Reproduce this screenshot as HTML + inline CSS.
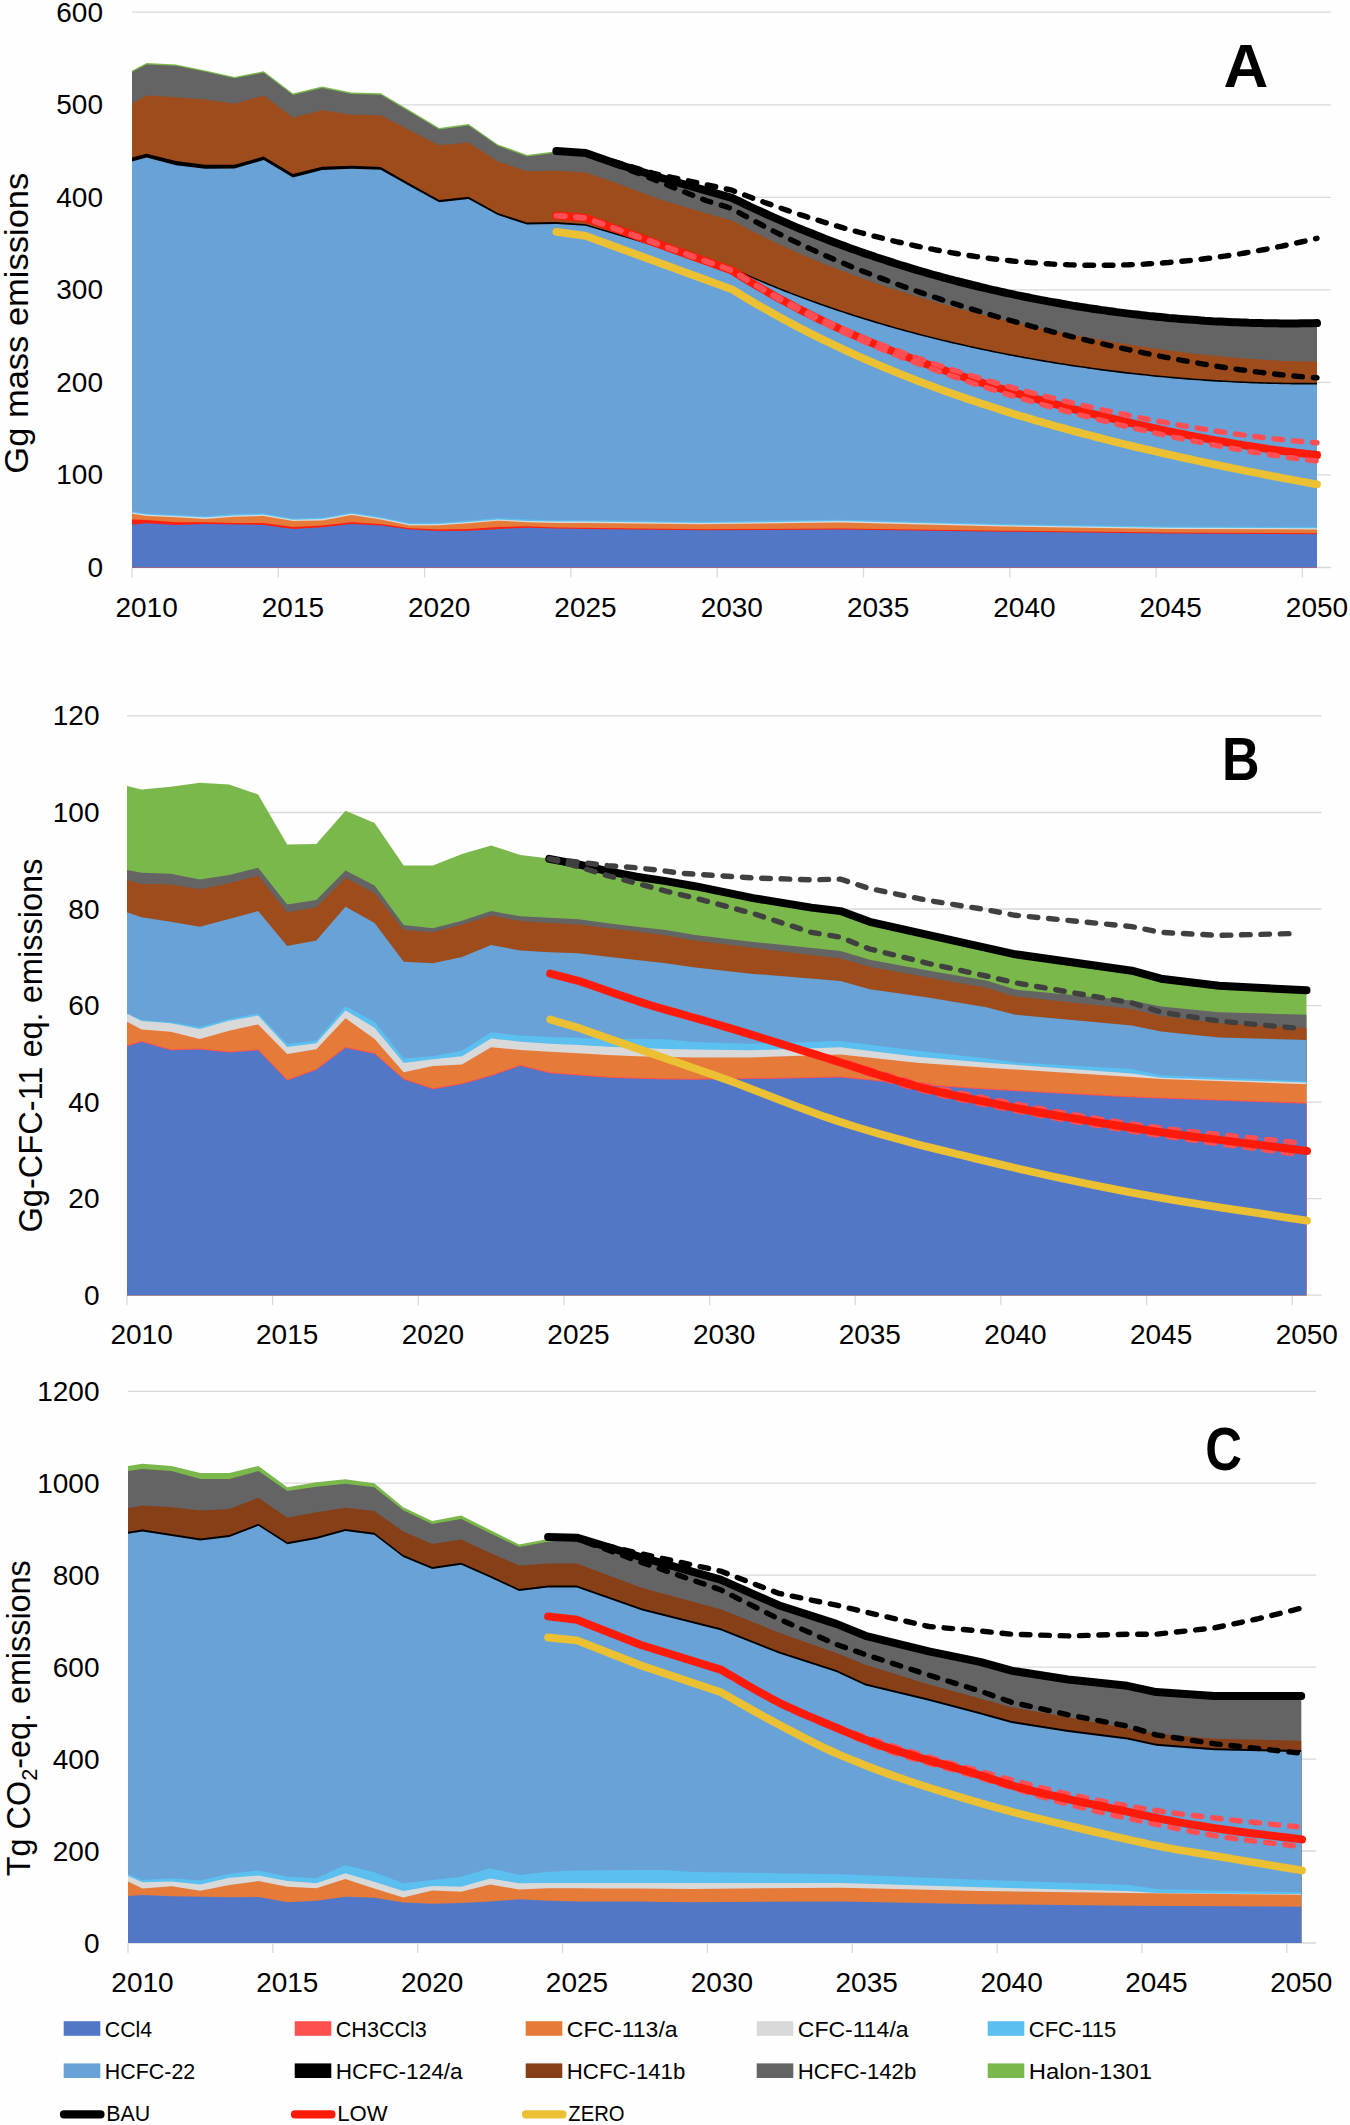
<!DOCTYPE html>
<html><head><meta charset="utf-8"><title>Emissions scenarios</title>
<style>
html,body{margin:0;padding:0;background:#FEFEFE;}
svg{display:block;}
.ax{font-family:"Liberation Sans",sans-serif;font-size:28px;fill:#000;}
.yt{font-family:"Liberation Sans",sans-serif;font-size:33px;fill:#000;}
.lt{font-family:"Liberation Sans",sans-serif;font-size:62px;font-weight:bold;fill:#000;}
.lg{font-family:"Liberation Sans",sans-serif;font-size:22px;fill:#000;}
</style></head>
<body>
<svg width="1350" height="2125" viewBox="0 0 1350 2125">
<rect width="1350" height="2125" fill="#FEFEFE"/>
<line x1="132" y1="567.5" x2="1331" y2="567.5" stroke="#D9D9D9" stroke-width="1.3"/>
<line x1="132" y1="474.9" x2="1331" y2="474.9" stroke="#D9D9D9" stroke-width="1.3"/>
<line x1="132" y1="382.4" x2="1331" y2="382.4" stroke="#D9D9D9" stroke-width="1.3"/>
<line x1="132" y1="289.9" x2="1331" y2="289.9" stroke="#D9D9D9" stroke-width="1.3"/>
<line x1="132" y1="197.3" x2="1331" y2="197.3" stroke="#D9D9D9" stroke-width="1.3"/>
<line x1="132" y1="104.8" x2="1331" y2="104.8" stroke="#D9D9D9" stroke-width="1.3"/>
<line x1="132" y1="12.2" x2="1331" y2="12.2" stroke="#D9D9D9" stroke-width="1.3"/>
<line x1="132.0" y1="567.5" x2="132.0" y2="577.5" stroke="#D9D9D9" stroke-width="1.3"/>
<line x1="278.3" y1="567.5" x2="278.3" y2="577.5" stroke="#D9D9D9" stroke-width="1.3"/>
<line x1="424.6" y1="567.5" x2="424.6" y2="577.5" stroke="#D9D9D9" stroke-width="1.3"/>
<line x1="570.9" y1="567.5" x2="570.9" y2="577.5" stroke="#D9D9D9" stroke-width="1.3"/>
<line x1="717.2" y1="567.5" x2="717.2" y2="577.5" stroke="#D9D9D9" stroke-width="1.3"/>
<line x1="863.5" y1="567.5" x2="863.5" y2="577.5" stroke="#D9D9D9" stroke-width="1.3"/>
<line x1="1009.8" y1="567.5" x2="1009.8" y2="577.5" stroke="#D9D9D9" stroke-width="1.3"/>
<line x1="1156.1" y1="567.5" x2="1156.1" y2="577.5" stroke="#D9D9D9" stroke-width="1.3"/>
<line x1="1302.4" y1="567.5" x2="1302.4" y2="577.5" stroke="#D9D9D9" stroke-width="1.3"/>
<polygon points="132.0,70.7 146.6,63.0 175.9,64.4 205.2,70.4 234.4,76.9 263.7,71.3 292.9,93.5 322.2,86.5 351.5,92.6 380.7,93.3 410.0,110.5 439.2,128.1 468.5,124.1 497.8,144.4 527.0,155.0 556.3,151.3 585.6,153.0 615.6,163.5 660.0,177.5 698.5,188.3 731.9,197.8 735.9,199.8 739.9,201.7 743.9,203.7 747.9,205.6 751.9,207.5 755.9,209.3 760.0,211.2 764.0,213.0 768.0,214.9 772.0,216.7 776.0,218.4 780.0,220.2 784.0,221.9 788.0,223.7 792.0,225.4 796.0,227.1 800.0,228.7 804.0,230.4 808.0,232.0 812.1,233.6 816.1,235.2 820.1,236.8 824.1,238.4 828.1,239.9 832.1,241.5 836.1,243.0 840.1,244.5 844.1,245.9 848.1,247.4 852.1,248.9 856.1,250.3 860.1,251.7 864.1,253.1 868.2,254.5 872.2,255.8 876.2,257.2 880.2,258.5 884.2,259.8 888.2,261.1 892.2,262.4 896.2,263.7 900.2,265.0 904.2,266.2 908.2,267.4 912.2,268.6 916.2,269.8 920.3,271.0 924.3,272.2 928.3,273.3 932.3,274.5 936.3,275.6 940.3,276.7 944.3,277.8 948.3,278.9 952.3,279.9 956.3,281.0 960.3,282.0 964.3,283.0 968.3,284.0 972.4,285.0 976.4,286.0 980.4,287.0 984.4,287.9 988.4,288.9 992.4,289.8 996.4,290.7 1000.4,291.6 1004.4,292.5 1008.4,293.4 1012.4,294.2 1016.4,295.1 1020.4,295.9 1024.5,296.7 1028.5,297.5 1032.5,298.3 1036.5,299.1 1040.5,299.9 1044.5,300.6 1048.5,301.4 1052.5,302.1 1056.5,302.8 1060.5,303.5 1064.5,304.2 1068.5,304.9 1072.5,305.6 1076.5,306.2 1080.6,306.9 1084.6,307.5 1088.6,308.1 1092.6,308.7 1096.6,309.3 1100.6,309.9 1104.6,310.4 1108.6,311.0 1112.6,311.5 1116.6,312.1 1120.6,312.6 1124.6,313.1 1128.6,313.6 1132.7,314.1 1136.7,314.5 1140.7,315.0 1144.7,315.4 1148.7,315.9 1152.7,316.3 1156.7,316.7 1160.7,317.1 1164.7,317.5 1168.7,317.9 1172.7,318.2 1176.7,318.6 1180.7,318.9 1184.8,319.2 1188.8,319.5 1192.8,319.8 1196.8,320.1 1200.8,320.4 1204.8,320.7 1208.8,320.9 1212.8,321.2 1216.8,321.4 1220.8,321.6 1224.8,321.8 1228.8,322.0 1232.8,322.2 1236.8,322.3 1240.9,322.5 1244.9,322.6 1248.9,322.8 1252.9,322.9 1256.9,323.0 1260.9,323.1 1264.9,323.2 1268.9,323.2 1272.9,323.3 1276.9,323.3 1280.9,323.4 1284.9,323.4 1288.9,323.4 1293.0,323.4 1297.0,323.4 1301.0,323.3 1305.0,323.3 1309.0,323.3 1313.0,323.2 1317.0,323.1 1317.0,567.5 132.0,567.5" fill="#7BB84C"/>
<polygon points="132.0,72.1 146.6,64.4 175.9,65.8 205.2,71.8 234.4,78.3 263.7,72.7 292.9,94.9 322.2,87.9 351.5,94.0 380.7,94.7 410.0,111.9 439.2,129.5 468.5,125.5 497.8,145.8 527.0,156.4 556.3,152.7 585.6,154.5 615.6,165.0 660.0,179.0 698.5,189.8 731.9,199.3 735.9,201.3 739.9,203.2 743.9,205.2 747.9,207.1 751.9,209.0 755.9,210.8 760.0,212.7 764.0,214.5 768.0,216.4 772.0,218.2 776.0,219.9 780.0,221.7 784.0,223.4 788.0,225.2 792.0,226.9 796.0,228.6 800.0,230.2 804.0,231.9 808.0,233.5 812.1,235.1 816.1,236.7 820.1,238.3 824.1,239.9 828.1,241.4 832.1,243.0 836.1,244.5 840.1,246.0 844.1,247.4 848.1,248.9 852.1,250.4 856.1,251.8 860.1,253.2 864.1,254.6 868.2,256.0 872.2,257.3 876.2,258.7 880.2,260.0 884.2,261.3 888.2,262.6 892.2,263.9 896.2,265.2 900.2,266.5 904.2,267.7 908.2,268.9 912.2,270.1 916.2,271.3 920.3,272.5 924.3,273.7 928.3,274.8 932.3,276.0 936.3,277.1 940.3,278.2 944.3,279.3 948.3,280.4 952.3,281.4 956.3,282.5 960.3,283.5 964.3,284.5 968.3,285.5 972.4,286.5 976.4,287.5 980.4,288.5 984.4,289.4 988.4,290.4 992.4,291.3 996.4,292.2 1000.4,293.1 1004.4,294.0 1008.4,294.9 1012.4,295.7 1016.4,296.6 1020.4,297.4 1024.5,298.2 1028.5,299.0 1032.5,299.8 1036.5,300.6 1040.5,301.4 1044.5,302.1 1048.5,302.9 1052.5,303.6 1056.5,304.3 1060.5,305.0 1064.5,305.7 1068.5,306.4 1072.5,307.1 1076.5,307.7 1080.6,308.4 1084.6,309.0 1088.6,309.6 1092.6,310.2 1096.6,310.8 1100.6,311.4 1104.6,311.9 1108.6,312.5 1112.6,313.0 1116.6,313.6 1120.6,314.1 1124.6,314.6 1128.6,315.1 1132.7,315.6 1136.7,316.0 1140.7,316.5 1144.7,316.9 1148.7,317.4 1152.7,317.8 1156.7,318.2 1160.7,318.6 1164.7,319.0 1168.7,319.4 1172.7,319.7 1176.7,320.1 1180.7,320.4 1184.8,320.7 1188.8,321.0 1192.8,321.3 1196.8,321.6 1200.8,321.9 1204.8,322.2 1208.8,322.4 1212.8,322.7 1216.8,322.9 1220.8,323.1 1224.8,323.3 1228.8,323.5 1232.8,323.7 1236.8,323.8 1240.9,324.0 1244.9,324.1 1248.9,324.3 1252.9,324.4 1256.9,324.5 1260.9,324.6 1264.9,324.7 1268.9,324.7 1272.9,324.8 1276.9,324.8 1280.9,324.9 1284.9,324.9 1288.9,324.9 1293.0,324.9 1297.0,324.9 1301.0,324.8 1305.0,324.8 1309.0,324.8 1313.0,324.7 1317.0,324.6 1317.0,567.5 132.0,567.5" fill="#636463"/>
<polygon points="132.0,103.3 146.6,95.4 175.9,97.2 205.2,99.6 234.4,103.7 263.7,95.4 292.9,117.6 322.2,110.2 351.5,114.8 380.7,115.2 410.0,130.4 439.2,145.2 468.5,142.6 497.8,161.5 527.0,171.3 556.3,170.7 585.6,172.4 615.6,182.7 660.0,199.5 700.0,211.5 731.9,220.4 735.9,222.6 739.9,224.7 743.9,226.8 747.9,228.9 751.9,231.0 755.9,233.0 760.0,235.1 764.0,237.0 768.0,239.0 772.0,240.9 776.0,242.8 780.0,244.7 784.0,246.6 788.0,248.4 792.0,250.2 796.0,252.0 800.0,253.8 804.0,255.5 808.0,257.2 812.1,258.9 816.1,260.6 820.1,262.3 824.1,263.9 828.1,265.5 832.1,267.1 836.1,268.7 840.1,270.2 844.1,271.8 848.1,273.3 852.1,274.8 856.1,276.2 860.1,277.7 864.1,279.1 868.2,280.6 872.2,282.0 876.2,283.4 880.2,284.7 884.2,286.1 888.2,287.4 892.2,288.7 896.2,290.0 900.2,291.3 904.2,292.6 908.2,293.9 912.2,295.1 916.2,296.3 920.3,297.6 924.3,298.8 928.3,300.0 932.3,301.1 936.3,302.3 940.3,303.4 944.3,304.6 948.3,305.7 952.3,306.8 956.3,307.9 960.3,309.0 964.3,310.0 968.3,311.1 972.4,312.1 976.4,313.2 980.4,314.2 984.4,315.2 988.4,316.2 992.4,317.2 996.4,318.2 1000.4,319.1 1004.4,320.1 1008.4,321.0 1012.4,322.0 1016.4,322.9 1020.4,323.8 1024.5,324.7 1028.5,325.6 1032.5,326.5 1036.5,327.3 1040.5,328.2 1044.5,329.0 1048.5,329.9 1052.5,330.7 1056.5,331.5 1060.5,332.3 1064.5,333.1 1068.5,333.9 1072.5,334.7 1076.5,335.4 1080.6,336.2 1084.6,337.0 1088.6,337.7 1092.6,338.4 1096.6,339.1 1100.6,339.8 1104.6,340.5 1108.6,341.2 1112.6,341.9 1116.6,342.6 1120.6,343.2 1124.6,343.9 1128.6,344.5 1132.7,345.2 1136.7,345.8 1140.7,346.4 1144.7,347.0 1148.7,347.6 1152.7,348.2 1156.7,348.7 1160.7,349.3 1164.7,349.9 1168.7,350.4 1172.7,350.9 1176.7,351.4 1180.7,351.9 1184.8,352.4 1188.8,352.9 1192.8,353.4 1196.8,353.9 1200.8,354.3 1204.8,354.7 1208.8,355.2 1212.8,355.6 1216.8,356.0 1220.8,356.4 1224.8,356.8 1228.8,357.1 1232.8,357.5 1236.8,357.8 1240.9,358.2 1244.9,358.5 1248.9,358.8 1252.9,359.1 1256.9,359.3 1260.9,359.6 1264.9,359.8 1268.9,360.1 1272.9,360.3 1276.9,360.5 1280.9,360.7 1284.9,360.9 1288.9,361.0 1293.0,361.2 1297.0,361.3 1301.0,361.4 1305.0,361.5 1309.0,361.6 1313.0,361.6 1317.0,361.7 1317.0,567.5 132.0,567.5" fill="#9E4C1C"/>
<polygon points="132.0,157.4 146.6,153.7 175.9,161.1 205.2,164.8 234.4,164.8 263.7,156.5 292.9,174.0 322.2,166.7 351.5,165.7 380.7,167.0 410.0,183.7 439.2,200.0 468.5,196.7 497.8,213.0 527.0,222.6 556.3,222.1 585.6,224.2 731.9,267.5 735.9,269.3 739.9,271.2 743.9,272.9 747.9,274.7 751.9,276.5 755.9,278.2 760.0,279.9 764.0,281.6 768.0,283.3 772.0,284.9 776.0,286.6 780.0,288.2 784.0,289.8 788.0,291.3 792.0,292.9 796.0,294.4 800.0,295.9 804.0,297.4 808.0,298.9 812.1,300.4 816.1,301.8 820.1,303.3 824.1,304.7 828.1,306.1 832.1,307.5 836.1,308.8 840.1,310.2 844.1,311.5 848.1,312.8 852.1,314.1 856.1,315.4 860.1,316.6 864.1,317.9 868.2,319.1 872.2,320.3 876.2,321.6 880.2,322.7 884.2,323.9 888.2,325.1 892.2,326.2 896.2,327.4 900.2,328.5 904.2,329.6 908.2,330.7 912.2,331.7 916.2,332.8 920.3,333.9 924.3,334.9 928.3,335.9 932.3,336.9 936.3,337.9 940.3,338.9 944.3,339.9 948.3,340.8 952.3,341.8 956.3,342.7 960.3,343.6 964.3,344.5 968.3,345.4 972.4,346.3 976.4,347.2 980.4,348.1 984.4,348.9 988.4,349.7 992.4,350.6 996.4,351.4 1000.4,352.2 1004.4,353.0 1008.4,353.8 1012.4,354.5 1016.4,355.3 1020.4,356.0 1024.5,356.8 1028.5,357.5 1032.5,358.2 1036.5,358.9 1040.5,359.6 1044.5,360.3 1048.5,361.0 1052.5,361.6 1056.5,362.3 1060.5,362.9 1064.5,363.5 1068.5,364.2 1072.5,364.8 1076.5,365.4 1080.6,366.0 1084.6,366.5 1088.6,367.1 1092.6,367.7 1096.6,368.2 1100.6,368.8 1104.6,369.3 1108.6,369.8 1112.6,370.3 1116.6,370.8 1120.6,371.3 1124.6,371.8 1128.6,372.3 1132.7,372.7 1136.7,373.2 1140.7,373.6 1144.7,374.0 1148.7,374.5 1152.7,374.9 1156.7,375.3 1160.7,375.7 1164.7,376.0 1168.7,376.4 1172.7,376.8 1176.7,377.1 1180.7,377.5 1184.8,377.8 1188.8,378.1 1192.8,378.4 1196.8,378.7 1200.8,379.0 1204.8,379.3 1208.8,379.6 1212.8,379.8 1216.8,380.1 1220.8,380.3 1224.8,380.5 1228.8,380.7 1232.8,381.0 1236.8,381.2 1240.9,381.3 1244.9,381.5 1248.9,381.7 1252.9,381.8 1256.9,382.0 1260.9,382.1 1264.9,382.2 1268.9,382.3 1272.9,382.4 1276.9,382.5 1280.9,382.6 1284.9,382.7 1288.9,382.7 1293.0,382.8 1297.0,382.8 1301.0,382.8 1305.0,382.8 1309.0,382.8 1313.0,382.8 1317.0,382.8 1317.0,567.5 132.0,567.5" fill="#000000"/>
<polygon points="132.0,161.6 146.6,157.6 175.9,165.3 205.2,168.8 234.4,168.6 263.7,160.1 292.9,177.4 322.2,169.9 351.5,168.7 380.7,169.8 410.0,186.2 439.2,202.3 468.5,198.9 497.8,215.1 527.0,224.6 556.3,224.0 585.6,225.8 731.9,269.1 735.9,270.9 739.9,272.8 743.9,274.5 747.9,276.3 751.9,278.1 755.9,279.8 760.0,281.5 764.0,283.2 768.0,284.9 772.0,286.5 776.0,288.2 780.0,289.8 784.0,291.4 788.0,292.9 792.0,294.5 796.0,296.0 800.0,297.5 804.0,299.0 808.0,300.5 812.1,302.0 816.1,303.4 820.1,304.9 824.1,306.3 828.1,307.7 832.1,309.1 836.1,310.4 840.1,311.8 844.1,313.1 848.1,314.4 852.1,315.7 856.1,317.0 860.1,318.2 864.1,319.5 868.2,320.7 872.2,321.9 876.2,323.2 880.2,324.3 884.2,325.5 888.2,326.7 892.2,327.8 896.2,329.0 900.2,330.1 904.2,331.2 908.2,332.3 912.2,333.3 916.2,334.4 920.3,335.5 924.3,336.5 928.3,337.5 932.3,338.5 936.3,339.5 940.3,340.5 944.3,341.5 948.3,342.4 952.3,343.4 956.3,344.3 960.3,345.2 964.3,346.1 968.3,347.0 972.4,347.9 976.4,348.8 980.4,349.7 984.4,350.5 988.4,351.3 992.4,352.2 996.4,353.0 1000.4,353.8 1004.4,354.6 1008.4,355.4 1012.4,356.1 1016.4,356.9 1020.4,357.6 1024.5,358.4 1028.5,359.1 1032.5,359.8 1036.5,360.5 1040.5,361.2 1044.5,361.9 1048.5,362.6 1052.5,363.2 1056.5,363.9 1060.5,364.5 1064.5,365.1 1068.5,365.8 1072.5,366.4 1076.5,367.0 1080.6,367.6 1084.6,368.1 1088.6,368.7 1092.6,369.3 1096.6,369.8 1100.6,370.4 1104.6,370.9 1108.6,371.4 1112.6,371.9 1116.6,372.4 1120.6,372.9 1124.6,373.4 1128.6,373.9 1132.7,374.3 1136.7,374.8 1140.7,375.2 1144.7,375.6 1148.7,376.1 1152.7,376.5 1156.7,376.9 1160.7,377.3 1164.7,377.6 1168.7,378.0 1172.7,378.4 1176.7,378.7 1180.7,379.1 1184.8,379.4 1188.8,379.7 1192.8,380.0 1196.8,380.3 1200.8,380.6 1204.8,380.9 1208.8,381.2 1212.8,381.4 1216.8,381.7 1220.8,381.9 1224.8,382.1 1228.8,382.3 1232.8,382.6 1236.8,382.8 1240.9,382.9 1244.9,383.1 1248.9,383.3 1252.9,383.4 1256.9,383.6 1260.9,383.7 1264.9,383.8 1268.9,383.9 1272.9,384.0 1276.9,384.1 1280.9,384.2 1284.9,384.3 1288.9,384.3 1293.0,384.4 1297.0,384.4 1301.0,384.4 1305.0,384.4 1309.0,384.4 1313.0,384.4 1317.0,384.4 1317.0,567.5 132.0,567.5" fill="#69A2D7"/>
<polygon points="132.0,511.2 146.7,513.4 175.9,514.7 205.2,516.3 234.5,514.1 263.7,513.4 293.0,518.5 322.3,517.8 351.5,512.5 380.8,517.0 410.0,523.0 439.3,522.6 468.6,520.7 497.9,518.1 527.1,519.6 556.4,520.3 585.6,520.3 700.0,521.7 840.0,519.8 1003.0,524.0 1167.0,526.4 1317.0,526.9 1317.0,567.5 132.0,567.5" fill="#5BBFF0"/>
<polygon points="132.0,512.5 146.7,514.7 175.9,516.0 205.2,517.6 234.5,515.4 263.7,514.7 293.0,519.8 322.3,519.1 351.5,513.8 380.8,518.3 410.0,524.3 439.3,523.9 468.6,522.0 497.9,519.4 527.1,520.9 556.4,521.6 585.6,521.6 700.0,523.0 840.0,521.1 1003.0,525.3 1167.0,527.7 1317.0,528.2 1317.0,567.5 132.0,567.5" fill="#D9D9D9"/>
<polygon points="132.0,513.8 146.7,516.0 175.9,517.3 205.2,518.9 234.5,516.7 263.7,516.0 293.0,521.1 322.3,520.4 351.5,515.1 380.8,519.6 410.0,525.6 439.3,525.2 468.6,523.3 497.9,520.7 527.1,522.2 556.4,522.9 585.6,522.9 700.0,524.3 840.0,522.4 1003.0,526.6 1167.0,529.0 1317.0,529.5 1317.0,567.5 132.0,567.5" fill="#E57A39"/>
<polygon points="132.0,519.6 146.7,520.0 175.9,522.2 205.2,522.2 234.5,522.9 263.7,522.9 293.0,527.0 322.3,525.6 351.5,522.2 380.8,524.0 410.0,528.2 439.3,529.6 468.6,528.9 497.9,527.1 527.1,526.2 556.4,527.5 700.0,529.3 840.0,528.4 1003.0,530.7 1167.0,532.6 1317.0,533.2 1317.0,567.5 132.0,567.5" fill="#FF1E0F"/>
<polygon points="132.0,524.4 146.7,523.3 175.9,524.9 205.2,524.0 234.5,524.4 263.7,524.9 293.0,528.9 322.3,527.3 351.5,524.0 380.8,525.6 410.0,529.6 439.3,531.1 468.6,530.7 497.9,528.9 527.1,527.8 556.4,528.4 585.6,528.9 700.0,530.3 840.0,529.4 1003.0,531.7 1167.0,533.6 1317.0,534.2 1317.0,567.5 132.0,567.5" fill="#5277C7"/>
<polyline points="556.4,231.9 585.6,235.9 731.9,289.3 735.9,291.8 739.9,294.2 743.9,296.7 747.9,299.0 751.9,301.4 755.9,303.8 760.0,306.1 764.0,308.4 768.0,310.7 772.0,312.9 776.0,315.2 780.0,317.4 784.0,319.5 788.0,321.7 792.0,323.8 796.0,326.0 800.0,328.1 804.0,330.1 808.0,332.2 812.1,334.2 816.1,336.2 820.1,338.2 824.1,340.2 828.1,342.1 832.1,344.0 836.1,346.0 840.1,347.8 844.1,349.7 848.1,351.6 852.1,353.4 856.1,355.2 860.1,357.0 864.1,358.8 868.2,360.5 872.2,362.3 876.2,364.0 880.2,365.7 884.2,367.4 888.2,369.0 892.2,370.7 896.2,372.3 900.2,374.0 904.2,375.6 908.2,377.1 912.2,378.7 916.2,380.3 920.3,381.8 924.3,383.3 928.3,384.9 932.3,386.3 936.3,387.8 940.3,389.3 944.3,390.8 948.3,392.2 952.3,393.6 956.3,395.0 960.3,396.4 964.3,397.8 968.3,399.2 972.4,400.5 976.4,401.9 980.4,403.2 984.4,404.5 988.4,405.8 992.4,407.1 996.4,408.4 1000.4,409.7 1004.4,411.0 1008.4,412.2 1012.4,413.5 1016.4,414.7 1020.4,415.9 1024.5,417.1 1028.5,418.3 1032.5,419.5 1036.5,420.7 1040.5,421.8 1044.5,423.0 1048.5,424.1 1052.5,425.2 1056.5,426.4 1060.5,427.5 1064.5,428.6 1068.5,429.7 1072.5,430.8 1076.5,431.9 1080.6,432.9 1084.6,434.0 1088.6,435.0 1092.6,436.1 1096.6,437.1 1100.6,438.1 1104.6,439.2 1108.6,440.2 1112.6,441.2 1116.6,442.2 1120.6,443.2 1124.6,444.2 1128.6,445.1 1132.7,446.1 1136.7,447.1 1140.7,448.0 1144.7,449.0 1148.7,449.9 1152.7,450.8 1156.7,451.8 1160.7,452.7 1164.7,453.6 1168.7,454.5 1172.7,455.4 1176.7,456.3 1180.7,457.2 1184.8,458.1 1188.8,458.9 1192.8,459.8 1196.8,460.7 1200.8,461.5 1204.8,462.4 1208.8,463.2 1212.8,464.1 1216.8,464.9 1220.8,465.8 1224.8,466.6 1228.8,467.4 1232.8,468.2 1236.8,469.0 1240.9,469.8 1244.9,470.7 1248.9,471.5 1252.9,472.2 1256.9,473.0 1260.9,473.8 1264.9,474.6 1268.9,475.4 1272.9,476.2 1276.9,476.9 1280.9,477.7 1284.9,478.5 1288.9,479.2 1293.0,480.0 1297.0,480.7 1301.0,481.5 1305.0,482.2 1309.0,482.9 1313.0,483.7 1317.0,484.4" fill="none" stroke="#EBC032" stroke-width="7.8" stroke-linecap="round" stroke-linejoin="round"/>
<polyline points="556.4,215.6 585.6,218.0 731.9,270.5 735.9,273.0 739.9,275.5 743.9,278.0 747.9,280.5 751.9,282.9 755.9,285.3 760.0,287.6 764.0,289.9 768.0,292.2 772.0,294.5 776.0,296.7 780.0,298.9 784.0,301.1 788.0,303.3 792.0,305.4 796.0,307.5 800.0,309.6 804.0,311.6 808.0,313.6 812.1,315.6 816.1,317.6 820.1,319.6 824.1,321.5 828.1,323.4 832.1,325.3 836.1,327.1 840.1,329.0 844.1,330.8 848.1,332.6 852.1,334.4 856.1,336.1 860.1,337.9 864.1,339.6 868.2,341.3 872.2,343.0 876.2,344.6 880.2,346.3 884.2,347.9 888.2,349.5 892.2,351.1 896.2,352.7 900.2,354.2 904.2,355.8 908.2,357.3 912.2,358.8 916.2,360.3 920.3,361.8 924.3,363.2 928.3,364.7 932.3,366.1 936.3,367.5 940.3,368.9 944.3,370.3 948.3,371.7 952.3,373.1 956.3,374.4 960.3,375.8 964.3,377.1 968.3,378.4 972.4,379.7 976.4,381.0 980.4,382.3 984.4,383.5 988.4,384.8 992.4,386.0 996.4,387.3 1000.4,388.5 1004.4,389.7 1008.4,390.9 1012.4,392.1 1016.4,393.3 1020.4,394.4 1024.5,395.6 1028.5,396.7 1032.5,397.9 1036.5,399.0 1040.5,400.1 1044.5,401.2 1048.5,402.3 1052.5,403.4 1056.5,404.5 1060.5,405.6 1064.5,406.7 1068.5,407.7 1072.5,408.8 1076.5,409.8 1080.6,410.8 1084.6,411.8 1088.6,412.9 1092.6,413.9 1096.6,414.8 1100.6,415.8 1104.6,416.8 1108.6,417.8 1112.6,418.7 1116.6,419.7 1120.6,420.6 1124.6,421.6 1128.6,422.5 1132.7,423.4 1136.7,424.3 1140.7,425.2 1144.7,426.1 1148.7,427.0 1152.7,427.9 1156.7,428.7 1160.7,429.6 1164.7,430.4 1168.7,431.3 1172.7,432.1 1176.7,432.9 1180.7,433.7 1184.8,434.5 1188.8,435.3 1192.8,436.1 1196.8,436.9 1200.8,437.7 1204.8,438.4 1208.8,439.2 1212.8,439.9 1216.8,440.6 1220.8,441.3 1224.8,442.0 1228.8,442.7 1232.8,443.4 1236.8,444.1 1240.9,444.7 1244.9,445.4 1248.9,446.0 1252.9,446.7 1256.9,447.3 1260.9,447.9 1264.9,448.5 1268.9,449.1 1272.9,449.6 1276.9,450.2 1280.9,450.7 1284.9,451.3 1288.9,451.8 1293.0,452.3 1297.0,452.8 1301.0,453.2 1305.0,453.7 1309.0,454.1 1313.0,454.6 1317.0,455.0" fill="none" stroke="#FF1A0A" stroke-width="8" stroke-linecap="round" stroke-linejoin="round"/>
<polyline points="556.4,215.6 585.6,218.0 731.9,270.5 735.9,273.0 739.9,275.4 743.9,277.9 747.9,280.3 751.9,282.6 755.9,285.0 760.0,287.2 764.0,289.5 768.0,291.8 772.0,294.0 776.0,296.1 780.0,298.3 784.0,300.4 788.0,302.5 792.0,304.6 796.0,306.6 800.0,308.7 804.0,310.7 808.0,312.6 812.1,314.6 816.1,316.5 820.1,318.4 824.1,320.3 828.1,322.1 832.1,323.9 836.1,325.7 840.1,327.5 844.1,329.3 848.1,331.0 852.1,332.7 856.1,334.4 860.1,336.1 864.1,337.7 868.2,339.4 872.2,341.0 876.2,342.6 880.2,344.2 884.2,345.7 888.2,347.3 892.2,348.8 896.2,350.3 900.2,351.8 904.2,353.3 908.2,354.7 912.2,356.2 916.2,357.6 920.3,359.0 924.3,360.4 928.3,361.8 932.3,363.1 936.3,364.5 940.3,365.8 944.3,367.1 948.3,368.4 952.3,369.7 956.3,371.0 960.3,372.3 964.3,373.5 968.3,374.8 972.4,376.0 976.4,377.2 980.4,378.4 984.4,379.6 988.4,380.8 992.4,381.9 996.4,383.1 1000.4,384.2 1004.4,385.4 1008.4,386.5 1012.4,387.6 1016.4,388.7 1020.4,389.8 1024.5,390.8 1028.5,391.9 1032.5,393.0 1036.5,394.0 1040.5,395.0 1044.5,396.1 1048.5,397.1 1052.5,398.1 1056.5,399.1 1060.5,400.1 1064.5,401.0 1068.5,402.0 1072.5,402.9 1076.5,403.9 1080.6,404.8 1084.6,405.8 1088.6,406.7 1092.6,407.6 1096.6,408.5 1100.6,409.4 1104.6,410.3 1108.6,411.1 1112.6,412.0 1116.6,412.8 1120.6,413.7 1124.6,414.5 1128.6,415.4 1132.7,416.2 1136.7,417.0 1140.7,417.8 1144.7,418.6 1148.7,419.4 1152.7,420.1 1156.7,420.9 1160.7,421.7 1164.7,422.4 1168.7,423.1 1172.7,423.9 1176.7,424.6 1180.7,425.3 1184.8,426.0 1188.8,426.7 1192.8,427.3 1196.8,428.0 1200.8,428.7 1204.8,429.3 1208.8,430.0 1212.8,430.6 1216.8,431.2 1220.8,431.8 1224.8,432.4 1228.8,433.0 1232.8,433.6 1236.8,434.1 1240.9,434.7 1244.9,435.2 1248.9,435.7 1252.9,436.3 1256.9,436.8 1260.9,437.3 1264.9,437.7 1268.9,438.2 1272.9,438.7 1276.9,439.1 1280.9,439.5 1284.9,440.0 1288.9,440.4 1293.0,440.8 1297.0,441.1 1301.0,441.5 1305.0,441.8 1309.0,442.2 1313.0,442.5 1317.0,442.8" fill="none" stroke="#FF4F55" stroke-width="5.4" stroke-linecap="round" stroke-linejoin="round" stroke-dasharray="8.6 10.8"/>
<polyline points="556.4,215.6 585.6,218.0 731.9,270.5 735.9,273.1 739.9,275.7 743.9,278.2 747.9,280.7 751.9,283.2 755.9,285.6 760.0,288.0 764.0,290.4 768.0,292.8 772.0,295.1 776.0,297.4 780.0,299.7 784.0,301.9 788.0,304.1 792.0,306.3 796.0,308.5 800.0,310.6 804.0,312.7 808.0,314.8 812.1,316.9 816.1,318.9 820.1,320.9 824.1,322.9 828.1,324.9 832.1,326.8 836.1,328.8 840.1,330.7 844.1,332.5 848.1,334.4 852.1,336.2 856.1,338.1 860.1,339.8 864.1,341.6 868.2,343.4 872.2,345.1 876.2,346.8 880.2,348.5 884.2,350.2 888.2,351.9 892.2,353.5 896.2,355.1 900.2,356.8 904.2,358.3 908.2,359.9 912.2,361.5 916.2,363.0 920.3,364.5 924.3,366.1 928.3,367.6 932.3,369.0 936.3,370.5 940.3,372.0 944.3,373.4 948.3,374.8 952.3,376.2 956.3,377.6 960.3,379.0 964.3,380.4 968.3,381.7 972.4,383.1 976.4,384.4 980.4,385.7 984.4,387.0 988.4,388.3 992.4,389.6 996.4,390.8 1000.4,392.1 1004.4,393.4 1008.4,394.6 1012.4,395.8 1016.4,397.0 1020.4,398.2 1024.5,399.4 1028.5,400.6 1032.5,401.8 1036.5,402.9 1040.5,404.1 1044.5,405.2 1048.5,406.3 1052.5,407.5 1056.5,408.6 1060.5,409.7 1064.5,410.8 1068.5,411.8 1072.5,412.9 1076.5,414.0 1080.6,415.0 1084.6,416.1 1088.6,417.1 1092.6,418.1 1096.6,419.1 1100.6,420.1 1104.6,421.1 1108.6,422.1 1112.6,423.1 1116.6,424.1 1120.6,425.1 1124.6,426.0 1128.6,427.0 1132.7,427.9 1136.7,428.8 1140.7,429.7 1144.7,430.7 1148.7,431.6 1152.7,432.5 1156.7,433.3 1160.7,434.2 1164.7,435.1 1168.7,436.0 1172.7,436.8 1176.7,437.7 1180.7,438.5 1184.8,439.3 1188.8,440.1 1192.8,440.9 1196.8,441.7 1200.8,442.5 1204.8,443.3 1208.8,444.1 1212.8,444.8 1216.8,445.6 1220.8,446.3 1224.8,447.1 1228.8,447.8 1232.8,448.5 1236.8,449.2 1240.9,449.9 1244.9,450.6 1248.9,451.3 1252.9,452.0 1256.9,452.6 1260.9,453.3 1264.9,453.9 1268.9,454.5 1272.9,455.1 1276.9,455.7 1280.9,456.3 1284.9,456.9 1288.9,457.5 1293.0,458.0 1297.0,458.6 1301.0,459.1 1305.0,459.6 1309.0,460.1 1313.0,460.6 1317.0,461.1" fill="none" stroke="#FF4F55" stroke-width="5.4" stroke-linecap="round" stroke-linejoin="round" stroke-dasharray="8.6 10.8"/>
<polyline points="556.4,150.9 585.6,153.0 615.6,163.5 660.0,177.5 698.5,188.3 731.9,197.8 735.9,199.8 739.9,201.7 743.9,203.7 747.9,205.6 751.9,207.5 755.9,209.3 760.0,211.2 764.0,213.0 768.0,214.9 772.0,216.7 776.0,218.4 780.0,220.2 784.0,221.9 788.0,223.7 792.0,225.4 796.0,227.1 800.0,228.7 804.0,230.4 808.0,232.0 812.1,233.6 816.1,235.2 820.1,236.8 824.1,238.4 828.1,239.9 832.1,241.5 836.1,243.0 840.1,244.5 844.1,245.9 848.1,247.4 852.1,248.9 856.1,250.3 860.1,251.7 864.1,253.1 868.2,254.5 872.2,255.8 876.2,257.2 880.2,258.5 884.2,259.8 888.2,261.1 892.2,262.4 896.2,263.7 900.2,265.0 904.2,266.2 908.2,267.4 912.2,268.6 916.2,269.8 920.3,271.0 924.3,272.2 928.3,273.3 932.3,274.5 936.3,275.6 940.3,276.7 944.3,277.8 948.3,278.9 952.3,279.9 956.3,281.0 960.3,282.0 964.3,283.0 968.3,284.0 972.4,285.0 976.4,286.0 980.4,287.0 984.4,287.9 988.4,288.9 992.4,289.8 996.4,290.7 1000.4,291.6 1004.4,292.5 1008.4,293.4 1012.4,294.2 1016.4,295.1 1020.4,295.9 1024.5,296.7 1028.5,297.5 1032.5,298.3 1036.5,299.1 1040.5,299.9 1044.5,300.6 1048.5,301.4 1052.5,302.1 1056.5,302.8 1060.5,303.5 1064.5,304.2 1068.5,304.9 1072.5,305.6 1076.5,306.2 1080.6,306.9 1084.6,307.5 1088.6,308.1 1092.6,308.7 1096.6,309.3 1100.6,309.9 1104.6,310.4 1108.6,311.0 1112.6,311.5 1116.6,312.1 1120.6,312.6 1124.6,313.1 1128.6,313.6 1132.7,314.1 1136.7,314.5 1140.7,315.0 1144.7,315.4 1148.7,315.9 1152.7,316.3 1156.7,316.7 1160.7,317.1 1164.7,317.5 1168.7,317.9 1172.7,318.2 1176.7,318.6 1180.7,318.9 1184.8,319.2 1188.8,319.5 1192.8,319.8 1196.8,320.1 1200.8,320.4 1204.8,320.7 1208.8,320.9 1212.8,321.2 1216.8,321.4 1220.8,321.6 1224.8,321.8 1228.8,322.0 1232.8,322.2 1236.8,322.3 1240.9,322.5 1244.9,322.6 1248.9,322.8 1252.9,322.9 1256.9,323.0 1260.9,323.1 1264.9,323.2 1268.9,323.2 1272.9,323.3 1276.9,323.3 1280.9,323.4 1284.9,323.4 1288.9,323.4 1293.0,323.4 1297.0,323.4 1301.0,323.3 1305.0,323.3 1309.0,323.3 1313.0,323.2 1317.0,323.1" fill="none" stroke="#000000" stroke-width="8" stroke-linecap="round" stroke-linejoin="round"/>
<polyline points="556.4,150.9 585.6,153.0 654.0,173.5 731.9,190.2 735.9,191.7 739.9,193.3 743.9,194.8 747.9,196.3 751.9,197.8 755.9,199.3 760.0,200.7 764.0,202.2 768.0,203.6 772.0,205.0 776.0,206.4 780.0,207.8 784.0,209.2 788.0,210.6 792.0,211.9 796.0,213.2 800.0,214.6 804.0,215.9 808.0,217.2 812.1,218.4 816.1,219.7 820.1,220.9 824.1,222.2 828.1,223.4 832.1,224.6 836.1,225.8 840.1,226.9 844.1,228.1 848.1,229.2 852.1,230.3 856.1,231.4 860.1,232.5 864.1,233.6 868.2,234.7 872.2,235.7 876.2,236.7 880.2,237.7 884.2,238.7 888.2,239.7 892.2,240.6 896.2,241.6 900.2,242.5 904.2,243.4 908.2,244.3 912.2,245.1 916.2,246.0 920.3,246.8 924.3,247.6 928.3,248.4 932.3,249.2 936.3,250.0 940.3,250.7 944.3,251.4 948.3,252.1 952.3,252.8 956.3,253.5 960.3,254.1 964.3,254.8 968.3,255.4 972.4,256.0 976.4,256.6 980.4,257.1 984.4,257.7 988.4,258.2 992.4,258.7 996.4,259.2 1000.4,259.7 1004.4,260.1 1008.4,260.5 1012.4,261.0 1016.4,261.4 1020.4,261.7 1024.5,262.1 1028.5,262.4 1032.5,262.7 1036.5,263.0 1040.5,263.3 1044.5,263.6 1048.5,263.8 1052.5,264.1 1056.5,264.3 1060.5,264.5 1064.5,264.6 1068.5,264.8 1072.5,264.9 1076.5,265.0 1080.6,265.1 1084.6,265.2 1088.6,265.3 1092.6,265.3 1096.6,265.3 1100.6,265.3 1104.6,265.3 1108.6,265.3 1112.6,265.2 1116.6,265.1 1120.6,265.0 1124.6,264.9 1128.6,264.8 1132.7,264.6 1136.7,264.5 1140.7,264.3 1144.7,264.1 1148.7,263.8 1152.7,263.6 1156.7,263.3 1160.7,263.1 1164.7,262.8 1168.7,262.5 1172.7,262.1 1176.7,261.8 1180.7,261.4 1184.8,261.0 1188.8,260.6 1192.8,260.2 1196.8,259.7 1200.8,259.3 1204.8,258.8 1208.8,258.3 1212.8,257.8 1216.8,257.2 1220.8,256.7 1224.8,256.1 1228.8,255.5 1232.8,254.9 1236.8,254.3 1240.9,253.7 1244.9,253.0 1248.9,252.3 1252.9,251.6 1256.9,250.9 1260.9,250.2 1264.9,249.5 1268.9,248.7 1272.9,247.9 1276.9,247.1 1280.9,246.3 1284.9,245.5 1288.9,244.7 1293.0,243.8 1297.0,242.9 1301.0,242.0 1305.0,241.1 1309.0,240.2 1313.0,239.3 1317.0,238.3" fill="none" stroke="#000000" stroke-width="5.4" stroke-linecap="round" stroke-linejoin="round" stroke-dasharray="8.6 10.8"/>
<polyline points="556.4,150.9 585.6,153.0 654.0,179.5 688.1,193.5 705.9,200.5 731.9,208.5 735.9,210.8 739.9,213.1 743.9,215.3 747.9,217.5 751.9,219.7 755.9,221.9 760.0,224.0 764.0,226.1 768.0,228.2 772.0,230.3 776.0,232.3 780.0,234.3 784.0,236.3 788.0,238.3 792.0,240.2 796.0,242.1 800.0,244.0 804.0,245.9 808.0,247.8 812.1,249.6 816.1,251.4 820.1,253.2 824.1,255.0 828.1,256.8 832.1,258.5 836.1,260.2 840.1,261.9 844.1,263.6 848.1,265.2 852.1,266.9 856.1,268.5 860.1,270.1 864.1,271.7 868.2,273.3 872.2,274.9 876.2,276.4 880.2,277.9 884.2,279.4 888.2,280.9 892.2,282.4 896.2,283.9 900.2,285.3 904.2,286.8 908.2,288.2 912.2,289.6 916.2,291.0 920.3,292.4 924.3,293.8 928.3,295.1 932.3,296.5 936.3,297.8 940.3,299.1 944.3,300.5 948.3,301.8 952.3,303.0 956.3,304.3 960.3,305.6 964.3,306.8 968.3,308.1 972.4,309.3 976.4,310.5 980.4,311.7 984.4,312.9 988.4,314.1 992.4,315.3 996.4,316.5 1000.4,317.6 1004.4,318.8 1008.4,319.9 1012.4,321.0 1016.4,322.1 1020.4,323.2 1024.5,324.3 1028.5,325.4 1032.5,326.5 1036.5,327.6 1040.5,328.6 1044.5,329.7 1048.5,330.7 1052.5,331.8 1056.5,332.8 1060.5,333.8 1064.5,334.8 1068.5,335.8 1072.5,336.8 1076.5,337.8 1080.6,338.8 1084.6,339.7 1088.6,340.7 1092.6,341.6 1096.6,342.6 1100.6,343.5 1104.6,344.4 1108.6,345.3 1112.6,346.2 1116.6,347.1 1120.6,348.0 1124.6,348.8 1128.6,349.7 1132.7,350.6 1136.7,351.4 1140.7,352.2 1144.7,353.1 1148.7,353.9 1152.7,354.7 1156.7,355.5 1160.7,356.3 1164.7,357.1 1168.7,357.8 1172.7,358.6 1176.7,359.3 1180.7,360.1 1184.8,360.8 1188.8,361.5 1192.8,362.2 1196.8,362.9 1200.8,363.6 1204.8,364.3 1208.8,364.9 1212.8,365.6 1216.8,366.2 1220.8,366.8 1224.8,367.5 1228.8,368.1 1232.8,368.7 1236.8,369.2 1240.9,369.8 1244.9,370.3 1248.9,370.9 1252.9,371.4 1256.9,371.9 1260.9,372.4 1264.9,372.9 1268.9,373.4 1272.9,373.8 1276.9,374.3 1280.9,374.7 1284.9,375.1 1288.9,375.5 1293.0,375.9 1297.0,376.3 1301.0,376.6 1305.0,376.9 1309.0,377.2 1313.0,377.5 1317.0,377.8" fill="none" stroke="#000000" stroke-width="5.4" stroke-linecap="round" stroke-linejoin="round" stroke-dasharray="8.6 10.8"/>
<text x="103" y="577.0" text-anchor="end" class="ax">0</text>
<text x="103" y="484.4" text-anchor="end" class="ax">100</text>
<text x="103" y="391.9" text-anchor="end" class="ax">200</text>
<text x="103" y="299.4" text-anchor="end" class="ax">300</text>
<text x="103" y="206.8" text-anchor="end" class="ax">400</text>
<text x="103" y="114.2" text-anchor="end" class="ax">500</text>
<text x="103" y="21.7" text-anchor="end" class="ax">600</text>
<text x="146.6" y="616.7" text-anchor="middle" class="ax">2010</text>
<text x="292.9" y="616.7" text-anchor="middle" class="ax">2015</text>
<text x="439.2" y="616.7" text-anchor="middle" class="ax">2020</text>
<text x="585.5" y="616.7" text-anchor="middle" class="ax">2025</text>
<text x="731.8" y="616.7" text-anchor="middle" class="ax">2030</text>
<text x="878.1" y="616.7" text-anchor="middle" class="ax">2035</text>
<text x="1024.4" y="616.7" text-anchor="middle" class="ax">2040</text>
<text x="1170.7" y="616.7" text-anchor="middle" class="ax">2045</text>
<text x="1317.0" y="616.7" text-anchor="middle" class="ax">2050</text>
<text transform="translate(27.9,323.2) rotate(-90)" text-anchor="middle" class="yt" textLength="301" lengthAdjust="spacingAndGlyphs">Gg mass emissions</text>
<text x="1246" y="86.9" text-anchor="middle" class="lt">A</text>
<line x1="127" y1="1295.2" x2="1321.6" y2="1295.2" stroke="#D9D9D9" stroke-width="1.3"/>
<line x1="127" y1="1198.7" x2="1321.6" y2="1198.7" stroke="#D9D9D9" stroke-width="1.3"/>
<line x1="127" y1="1102.1" x2="1321.6" y2="1102.1" stroke="#D9D9D9" stroke-width="1.3"/>
<line x1="127" y1="1005.6" x2="1321.6" y2="1005.6" stroke="#D9D9D9" stroke-width="1.3"/>
<line x1="127" y1="909.0" x2="1321.6" y2="909.0" stroke="#D9D9D9" stroke-width="1.3"/>
<line x1="127" y1="812.5" x2="1321.6" y2="812.5" stroke="#D9D9D9" stroke-width="1.3"/>
<line x1="127" y1="715.9" x2="1321.6" y2="715.9" stroke="#D9D9D9" stroke-width="1.3"/>
<line x1="127.0" y1="1295.2" x2="127.0" y2="1305.2" stroke="#D9D9D9" stroke-width="1.3"/>
<line x1="272.6" y1="1295.2" x2="272.6" y2="1305.2" stroke="#D9D9D9" stroke-width="1.3"/>
<line x1="418.3" y1="1295.2" x2="418.3" y2="1305.2" stroke="#D9D9D9" stroke-width="1.3"/>
<line x1="564.0" y1="1295.2" x2="564.0" y2="1305.2" stroke="#D9D9D9" stroke-width="1.3"/>
<line x1="709.6" y1="1295.2" x2="709.6" y2="1305.2" stroke="#D9D9D9" stroke-width="1.3"/>
<line x1="855.2" y1="1295.2" x2="855.2" y2="1305.2" stroke="#D9D9D9" stroke-width="1.3"/>
<line x1="1000.9" y1="1295.2" x2="1000.9" y2="1305.2" stroke="#D9D9D9" stroke-width="1.3"/>
<line x1="1146.6" y1="1295.2" x2="1146.6" y2="1305.2" stroke="#D9D9D9" stroke-width="1.3"/>
<line x1="1292.2" y1="1295.2" x2="1292.2" y2="1305.2" stroke="#D9D9D9" stroke-width="1.3"/>
<polygon points="127.0,786.0 141.6,789.6 170.7,786.7 199.8,782.7 229.0,784.4 258.1,794.4 287.2,844.4 316.3,844.0 345.5,810.7 374.6,822.9 403.7,865.6 432.9,865.6 462.0,854.0 491.1,845.6 520.3,854.9 549.4,858.4 578.4,864.4 607.5,871.1 636.7,876.7 665.8,881.1 694.9,886.2 753.2,898.1 811.4,907.6 840.5,911.1 869.7,921.8 927.9,934.8 986.2,947.8 1015.3,954.3 1131.8,970.7 1160.9,978.7 1219.0,985.8 1306.5,990.3 1306.5,1295.2 127.0,1295.2" fill="#7BB84C"/>
<polygon points="127.0,870.0 141.6,872.7 170.7,873.8 199.8,879.6 229.0,874.9 258.1,867.8 287.2,904.4 316.3,900.0 345.5,870.4 374.6,885.6 403.7,924.9 432.9,928.2 462.0,920.7 491.1,911.1 520.3,916.2 549.4,917.8 578.5,919.3 607.6,923.3 636.8,926.7 665.9,930.0 695.0,935.0 753.2,941.9 840.5,950.9 869.7,959.7 927.9,970.4 986.2,980.5 1015.3,989.6 1131.8,1000.4 1160.9,1006.4 1219.0,1012.2 1306.5,1014.8 1306.5,1295.2 127.0,1295.2" fill="#636463"/>
<polygon points="127.0,880.0 141.6,884.0 170.7,884.4 199.8,889.3 229.0,883.3 258.1,875.6 287.2,912.2 316.3,907.3 345.5,877.8 374.6,893.3 403.7,930.0 432.9,932.2 462.0,924.4 491.1,915.6 520.3,921.1 549.4,922.9 578.5,924.4 607.6,928.2 636.8,931.6 665.9,935.6 695.0,940.5 753.2,947.8 840.5,958.5 869.7,966.8 927.9,977.5 986.2,987.8 1015.3,996.4 1131.8,1009.0 1160.9,1016.0 1219.0,1023.1 1306.5,1028.1 1306.5,1295.2 127.0,1295.2" fill="#9E4C1C"/>
<polygon points="127.0,912.2 141.6,917.3 170.7,921.8 199.8,926.7 229.0,918.9 258.1,911.1 287.2,946.0 316.3,940.4 345.5,906.7 374.6,922.9 403.7,961.8 432.9,963.3 462.0,957.1 491.1,945.1 520.3,950.4 549.4,952.2 578.5,953.3 607.6,956.7 636.8,960.0 665.9,963.3 695.0,967.5 753.2,973.9 840.5,981.0 869.7,989.3 927.9,997.6 986.2,1007.2 1015.3,1014.8 1131.8,1025.6 1160.9,1031.6 1219.0,1037.4 1306.5,1040.0 1306.5,1295.2 127.0,1295.2" fill="#69A2D7"/>
<polygon points="127.0,1013.3 141.6,1020.0 170.7,1022.2 199.8,1027.1 229.0,1018.9 258.1,1013.3 287.2,1044.0 316.3,1040.4 345.5,1006.2 374.6,1021.8 403.7,1058.4 432.9,1056.2 462.0,1050.7 491.1,1032.2 520.3,1035.6 549.4,1037.1 578.5,1037.8 607.6,1038.9 636.8,1038.9 665.9,1039.3 695.0,1042.0 751.0,1043.7 840.5,1040.9 917.0,1050.8 990.0,1058.8 1014.4,1062.3 1131.8,1069.1 1161.0,1075.2 1306.5,1081.3 1306.5,1295.2 127.0,1295.2" fill="#5BBFF0"/>
<polygon points="127.0,1013.8 141.6,1021.0 170.7,1023.3 199.8,1028.9 229.0,1020.7 258.1,1015.6 287.2,1047.0 316.3,1043.3 345.5,1010.4 374.6,1027.8 403.7,1062.9 432.9,1059.3 462.0,1056.2 491.1,1038.4 520.3,1041.8 549.4,1043.8 578.5,1045.1 607.6,1046.7 636.8,1047.8 665.9,1048.9 695.0,1049.5 751.0,1050.3 840.5,1047.3 917.0,1056.7 990.0,1063.0 1131.8,1073.5 1161.0,1077.7 1306.5,1082.6 1306.5,1295.2 127.0,1295.2" fill="#D9D9D9"/>
<polygon points="127.0,1021.8 141.6,1029.6 170.7,1031.8 199.8,1038.9 229.0,1030.7 258.1,1024.4 287.2,1054.0 316.3,1049.3 345.5,1018.2 374.6,1038.9 403.7,1072.2 432.9,1066.0 462.0,1064.4 491.1,1047.3 520.3,1050.0 549.4,1051.8 578.5,1053.3 607.6,1054.9 636.8,1056.2 665.9,1057.1 695.0,1057.6 751.0,1057.4 840.5,1054.4 917.0,1062.7 990.0,1067.9 1131.8,1077.0 1161.0,1078.9 1306.5,1084.3 1306.5,1295.2 127.0,1295.2" fill="#E57A39"/>
<polygon points="127.0,1045.6 141.6,1041.1 170.7,1049.3 199.8,1048.4 229.0,1051.6 258.1,1049.3 287.2,1079.6 316.3,1068.9 345.5,1047.1 374.6,1052.9 403.7,1078.6 432.9,1088.2 462.0,1083.3 491.1,1074.9 520.3,1065.1 549.4,1072.2 578.5,1074.4 607.6,1076.7 636.8,1077.8 665.9,1078.4 695.0,1078.8 751.0,1078.1 840.5,1076.4 917.0,1084.0 990.0,1088.7 1131.8,1096.5 1306.5,1102.8 1306.5,1295.2 127.0,1295.2" fill="#FF5050"/>
<polygon points="127.0,1046.6 141.6,1042.1 170.7,1050.3 199.8,1049.4 229.0,1052.6 258.1,1050.3 287.2,1080.6 316.3,1069.9 345.5,1048.1 374.6,1053.9 403.7,1079.6 432.9,1089.2 462.0,1084.3 491.1,1075.9 520.3,1066.1 549.4,1073.2 578.5,1075.4 607.6,1077.7 636.8,1078.8 665.9,1079.4 695.0,1079.8 751.0,1079.1 840.5,1077.4 917.0,1085.0 990.0,1089.7 1131.8,1097.5 1306.5,1103.8 1306.5,1295.2 127.0,1295.2" fill="#5277C7"/>
<polyline points="550.2,1019.6 579.2,1028.1 587.1,1030.9 595.0,1033.7 602.8,1036.4 610.7,1039.2 618.6,1042.0 626.5,1044.8 634.3,1047.5 642.2,1050.3 652.0,1053.7 661.8,1057.1 671.6,1060.5 681.4,1063.8 691.2,1067.2 701.0,1070.6 710.8,1074.0 720.6,1077.5 735.5,1082.9 750.4,1088.6 765.3,1094.3 780.2,1100.1 795.1,1105.8 810.0,1111.4 824.9,1116.8 839.8,1121.8 859.8,1128.1 879.8,1134.0 899.9,1139.6 919.9,1144.9 939.9,1149.9 960.0,1154.8 980.0,1159.6 1000.0,1164.4 1016.5,1168.3 1033.0,1172.0 1049.4,1175.7 1065.9,1179.3 1082.4,1182.7 1098.8,1186.1 1115.3,1189.4 1131.8,1192.6 1153.7,1196.6 1175.6,1200.4 1197.5,1203.9 1219.4,1207.3 1241.3,1210.6 1263.2,1213.9 1285.1,1217.3 1307.0,1220.7" fill="none" stroke="#EBC032" stroke-width="7.8" stroke-linecap="round" stroke-linejoin="round"/>
<polyline points="550.2,973.6 579.2,981.1 587.1,983.8 595.0,986.5 602.8,989.3 610.7,992.0 618.6,994.7 626.5,997.4 634.3,1000.0 642.2,1002.6 652.0,1005.7 661.8,1008.6 671.6,1011.5 681.4,1014.3 691.2,1017.0 701.0,1019.8 710.8,1022.6 720.6,1025.4 735.5,1029.8 750.4,1034.1 765.3,1038.5 780.2,1042.9 795.1,1047.3 810.0,1051.7 824.9,1056.1 839.8,1060.5 849.4,1063.4 859.1,1066.4 868.8,1069.4 878.4,1072.4 888.0,1075.3 897.7,1078.2 907.4,1080.9 917.0,1083.5 927.4,1086.1 937.8,1088.5 948.1,1090.7 958.5,1092.9 968.9,1094.9 979.2,1097.0 989.6,1099.0 1000.0,1101.0 1016.5,1104.2 1033.0,1107.3 1049.4,1110.4 1065.9,1113.3 1082.4,1116.2 1098.8,1118.9 1115.3,1121.5 1131.8,1124.0 1152.8,1126.9 1173.8,1129.6 1194.9,1132.0 1215.9,1134.2 1236.9,1136.4 1258.0,1138.5 1279.0,1140.7 1300.0,1143.0" fill="none" stroke="#FF4F55" stroke-width="5.4" stroke-linecap="round" stroke-linejoin="round" stroke-dasharray="8.6 10.8"/>
<polyline points="550.2,973.6 579.2,981.1 587.1,983.8 595.0,986.5 602.8,989.3 610.7,992.0 618.6,994.7 626.5,997.4 634.3,1000.0 642.2,1002.6 652.0,1005.6 661.8,1008.6 671.6,1011.4 681.4,1014.1 691.2,1016.9 701.0,1019.7 710.8,1022.5 720.6,1025.4 735.5,1030.0 750.4,1034.7 765.3,1039.5 780.2,1044.4 795.1,1049.3 810.0,1054.2 824.9,1059.1 839.8,1064.0 849.4,1067.2 859.1,1070.4 868.8,1073.7 878.4,1077.0 888.0,1080.2 897.7,1083.3 907.4,1086.2 917.0,1089.0 927.4,1091.7 937.8,1094.3 948.1,1096.7 958.5,1099.0 968.9,1101.2 979.2,1103.3 989.6,1105.4 1000.0,1107.5 1016.5,1110.8 1033.0,1114.0 1049.4,1117.0 1065.9,1120.0 1082.4,1122.8 1098.8,1125.6 1115.3,1128.3 1131.8,1131.0 1152.8,1134.3 1173.8,1137.4 1194.9,1140.4 1215.9,1143.3 1236.9,1146.1 1258.0,1148.9 1279.0,1151.8 1300.0,1154.7" fill="none" stroke="#FF4F55" stroke-width="5.4" stroke-linecap="round" stroke-linejoin="round" stroke-dasharray="8.6 10.8"/>
<polyline points="550.2,973.6 579.2,981.1 587.1,983.8 595.0,986.5 602.8,989.3 610.7,992.0 618.6,994.7 626.5,997.4 634.3,1000.0 642.2,1002.6 652.0,1005.7 661.8,1008.6 671.6,1011.4 681.4,1014.2 691.2,1017.0 701.0,1019.7 710.8,1022.5 720.6,1025.4 735.5,1029.9 750.4,1034.4 765.3,1039.0 780.2,1043.6 795.1,1048.2 810.0,1052.9 824.9,1057.5 839.8,1062.2 849.4,1065.3 859.1,1068.4 868.8,1071.6 878.4,1074.7 888.0,1077.8 897.7,1080.8 907.4,1083.7 917.0,1086.4 927.4,1089.1 937.8,1091.6 948.1,1094.0 958.5,1096.3 968.9,1098.5 979.2,1100.6 989.6,1102.7 1000.0,1104.8 1016.5,1108.1 1033.0,1111.2 1049.4,1114.2 1065.9,1117.1 1082.4,1119.9 1098.8,1122.6 1115.3,1125.2 1131.8,1127.8 1153.7,1131.1 1175.6,1134.2 1197.5,1137.1 1219.4,1139.9 1241.3,1142.7 1263.2,1145.4 1285.1,1148.2 1307.0,1151.0" fill="none" stroke="#FF1A0A" stroke-width="8" stroke-linecap="round" stroke-linejoin="round"/>
<polyline points="549.3,858.9 578.4,864.4 607.5,871.1 636.7,876.7 665.8,881.1 694.9,886.2 753.2,898.1 811.4,907.6 840.5,911.1 869.7,921.8 927.9,934.8 986.2,947.8 1015.3,954.3 1131.8,970.7 1160.9,978.7 1219.0,985.8 1306.5,990.3" fill="none" stroke="#000000" stroke-width="8" stroke-linecap="round" stroke-linejoin="round"/>
<polyline points="549.3,858.9 578.4,862.0 607.5,865.6 636.7,867.8 665.8,871.1 680.0,873.2 753.2,877.9 811.4,879.8 840.5,879.1 869.7,888.6 927.9,900.4 986.2,909.7 1015.3,915.3 1131.8,926.6 1160.9,932.4 1219.0,935.4 1297.0,933.4" fill="none" stroke="#404040" stroke-width="5.4" stroke-linecap="round" stroke-linejoin="round" stroke-dasharray="8.6 10.8"/>
<polyline points="549.3,858.9 578.4,866.7 607.5,875.6 636.7,883.3 665.8,891.1 694.9,898.0 753.2,913.5 811.4,932.4 840.5,937.2 869.7,949.0 927.9,963.3 986.2,976.0 1015.3,982.8 1131.8,1002.9 1160.9,1012.2 1219.0,1021.1 1302.0,1028.6" fill="none" stroke="#404040" stroke-width="5.4" stroke-linecap="round" stroke-linejoin="round" stroke-dasharray="8.6 10.8"/>
<text x="99.5" y="1304.7" text-anchor="end" class="ax">0</text>
<text x="99.5" y="1208.2" text-anchor="end" class="ax">20</text>
<text x="99.5" y="1111.6" text-anchor="end" class="ax">40</text>
<text x="99.5" y="1015.1" text-anchor="end" class="ax">60</text>
<text x="99.5" y="918.5" text-anchor="end" class="ax">80</text>
<text x="99.5" y="822.0" text-anchor="end" class="ax">100</text>
<text x="99.5" y="725.4" text-anchor="end" class="ax">120</text>
<text x="141.6" y="1344.2" text-anchor="middle" class="ax">2010</text>
<text x="287.2" y="1344.2" text-anchor="middle" class="ax">2015</text>
<text x="432.9" y="1344.2" text-anchor="middle" class="ax">2020</text>
<text x="578.5" y="1344.2" text-anchor="middle" class="ax">2025</text>
<text x="724.2" y="1344.2" text-anchor="middle" class="ax">2030</text>
<text x="869.8" y="1344.2" text-anchor="middle" class="ax">2035</text>
<text x="1015.5" y="1344.2" text-anchor="middle" class="ax">2040</text>
<text x="1161.1" y="1344.2" text-anchor="middle" class="ax">2045</text>
<text x="1306.8" y="1344.2" text-anchor="middle" class="ax">2050</text>
<text transform="translate(41.5,1045.5) rotate(-90)" text-anchor="middle" class="yt" textLength="374" lengthAdjust="spacingAndGlyphs">Gg-CFC-11 eq. emissions</text>
<text transform="translate(1240.8,779.7) scale(0.84,1)" text-anchor="middle" class="lt">B</text>
<line x1="128" y1="1943.0" x2="1316.2" y2="1943.0" stroke="#D9D9D9" stroke-width="1.3"/>
<line x1="128" y1="1851.0" x2="1316.2" y2="1851.0" stroke="#D9D9D9" stroke-width="1.3"/>
<line x1="128" y1="1759.1" x2="1316.2" y2="1759.1" stroke="#D9D9D9" stroke-width="1.3"/>
<line x1="128" y1="1667.2" x2="1316.2" y2="1667.2" stroke="#D9D9D9" stroke-width="1.3"/>
<line x1="128" y1="1575.2" x2="1316.2" y2="1575.2" stroke="#D9D9D9" stroke-width="1.3"/>
<line x1="128" y1="1483.2" x2="1316.2" y2="1483.2" stroke="#D9D9D9" stroke-width="1.3"/>
<line x1="128" y1="1391.3" x2="1316.2" y2="1391.3" stroke="#D9D9D9" stroke-width="1.3"/>
<line x1="128.0" y1="1943" x2="128.0" y2="1953" stroke="#D9D9D9" stroke-width="1.3"/>
<line x1="272.9" y1="1943" x2="272.9" y2="1953" stroke="#D9D9D9" stroke-width="1.3"/>
<line x1="417.7" y1="1943" x2="417.7" y2="1953" stroke="#D9D9D9" stroke-width="1.3"/>
<line x1="562.5" y1="1943" x2="562.5" y2="1953" stroke="#D9D9D9" stroke-width="1.3"/>
<line x1="707.4" y1="1943" x2="707.4" y2="1953" stroke="#D9D9D9" stroke-width="1.3"/>
<line x1="852.2" y1="1943" x2="852.2" y2="1953" stroke="#D9D9D9" stroke-width="1.3"/>
<line x1="997.1" y1="1943" x2="997.1" y2="1953" stroke="#D9D9D9" stroke-width="1.3"/>
<line x1="1141.9" y1="1943" x2="1141.9" y2="1953" stroke="#D9D9D9" stroke-width="1.3"/>
<line x1="1286.8" y1="1943" x2="1286.8" y2="1953" stroke="#D9D9D9" stroke-width="1.3"/>
<polygon points="128.0,1466.0 142.5,1463.8 171.5,1466.0 200.4,1472.9 229.4,1472.9 258.4,1466.0 287.3,1487.3 316.3,1482.2 345.3,1479.3 374.2,1483.3 403.2,1507.3 432.2,1521.1 461.2,1515.6 490.1,1530.0 519.1,1544.4 548.1,1538.9 576.8,1537.7 642.2,1557.5 720.6,1579.6 778.5,1605.2 836.4,1623.9 865.4,1635.8 928.9,1651.4 980.0,1661.9 1011.5,1670.7 1068.2,1679.5 1127.4,1685.8 1156.3,1692.1 1214.3,1695.9 1301.2,1695.9 1301.2,1943.0 128.0,1943.0" fill="#7BB84C"/>
<polygon points="128.0,1471.1 142.5,1468.9 171.5,1471.1 200.4,1478.9 229.4,1478.9 258.4,1471.1 287.3,1491.1 316.3,1486.7 345.3,1483.8 374.2,1487.3 403.2,1510.2 432.2,1524.0 461.2,1518.9 490.1,1533.3 519.1,1547.1 548.1,1541.8 576.8,1539.2 642.2,1559.0 720.6,1581.1 778.5,1606.7 836.4,1625.4 865.4,1637.3 928.9,1652.9 980.0,1663.4 1011.5,1672.2 1068.2,1681.0 1127.4,1687.3 1156.3,1693.6 1214.3,1697.4 1301.2,1697.4 1301.2,1943.0 128.0,1943.0" fill="#636463"/>
<polygon points="128.0,1508.2 142.5,1505.6 171.5,1507.3 200.4,1510.4 229.4,1508.9 258.4,1497.8 287.3,1517.8 316.3,1512.2 345.3,1507.8 374.2,1511.1 403.2,1531.5 432.2,1544.0 461.2,1539.6 490.1,1552.9 519.1,1565.6 548.1,1563.4 576.8,1563.6 642.2,1588.1 720.6,1609.3 778.5,1632.4 836.4,1652.9 865.4,1664.8 928.9,1684.6 980.0,1698.4 1011.5,1707.2 1068.2,1717.3 1127.4,1728.6 1156.3,1733.7 1214.3,1738.7 1301.2,1740.7 1301.2,1943.0 128.0,1943.0" fill="#873F18"/>
<polygon points="128.0,1531.8 142.5,1529.6 171.5,1534.0 200.4,1538.4 229.4,1535.1 258.4,1523.8 287.3,1542.2 316.3,1537.1 345.3,1528.9 374.2,1532.7 403.2,1555.0 432.2,1567.1 461.2,1562.7 490.1,1575.6 519.1,1588.9 548.1,1585.4 576.8,1585.4 642.2,1608.6 720.6,1628.3 778.5,1651.2 836.4,1669.9 865.4,1683.5 928.9,1698.8 980.0,1712.2 1011.5,1721.1 1068.2,1729.9 1127.4,1737.4 1156.3,1743.7 1214.3,1748.3 1301.2,1750.0 1301.2,1943.0 128.0,1943.0" fill="#000000"/>
<polygon points="128.0,1533.8 142.5,1531.6 171.5,1536.0 200.4,1540.4 229.4,1537.1 258.4,1525.8 287.3,1544.2 316.3,1539.1 345.3,1530.9 374.2,1534.7 403.2,1557.0 432.2,1569.1 461.2,1564.7 490.1,1577.6 519.1,1590.9 548.1,1587.4 576.8,1587.4 642.2,1610.6 720.6,1630.3 778.5,1653.2 836.4,1671.9 865.4,1685.5 928.9,1700.8 980.0,1714.2 1011.5,1723.1 1068.2,1731.9 1127.4,1739.4 1156.3,1745.7 1214.3,1750.3 1301.2,1752.0 1301.2,1943.0 128.0,1943.0" fill="#69A2D7"/>
<polygon points="128.0,1873.8 142.5,1880.0 171.5,1878.2 200.4,1880.4 229.4,1873.8 258.4,1870.4 287.3,1876.7 316.3,1878.2 345.3,1864.9 374.2,1872.2 403.2,1883.3 432.2,1880.0 461.2,1876.7 490.1,1868.2 519.1,1874.9 548.1,1871.8 577.0,1870.4 606.0,1870.2 635.0,1870.0 663.9,1870.0 692.9,1872.0 841.0,1874.2 980.0,1879.7 1127.4,1884.8 1156.3,1889.0 1301.2,1892.3 1301.2,1943.0 128.0,1943.0" fill="#5BBFF0"/>
<polygon points="128.0,1876.0 142.5,1882.2 171.5,1881.6 200.4,1884.4 229.4,1877.8 258.4,1875.6 287.3,1881.1 316.3,1883.3 345.3,1873.3 374.2,1881.8 403.2,1891.1 432.2,1886.0 461.2,1886.7 490.1,1878.4 519.1,1883.3 548.1,1882.9 577.0,1882.9 606.0,1882.9 635.0,1882.9 663.9,1882.9 692.9,1882.9 841.0,1883.0 980.0,1887.3 1127.4,1891.1 1156.3,1893.1 1301.2,1894.1 1301.2,1943.0 128.0,1943.0" fill="#D9D9D9"/>
<polygon points="128.0,1881.6 142.5,1888.4 171.5,1886.2 200.4,1890.7 229.4,1884.9 258.4,1881.1 287.3,1886.7 316.3,1888.2 345.3,1878.9 374.2,1888.4 403.2,1897.4 432.2,1890.4 461.2,1891.8 490.1,1884.4 519.1,1889.6 548.1,1888.2 577.0,1888.2 606.0,1888.4 635.0,1888.6 663.9,1888.8 692.9,1888.9 841.0,1887.7 980.0,1891.1 1127.4,1893.1 1301.2,1894.8 1301.2,1943.0 128.0,1943.0" fill="#E57A39"/>
<polygon points="128.0,1896.0 142.5,1895.1 171.5,1896.2 200.4,1896.7 229.4,1897.3 258.4,1897.1 287.3,1902.2 316.3,1900.7 345.3,1896.7 374.2,1897.8 403.2,1902.5 432.2,1903.8 461.2,1902.9 490.1,1901.6 519.1,1899.3 548.1,1900.7 577.0,1901.6 606.0,1901.6 635.0,1901.6 663.9,1901.9 692.9,1902.2 841.0,1901.5 980.0,1904.2 1127.4,1905.7 1301.2,1906.7 1301.2,1943.0 128.0,1943.0" fill="#5277C7"/>
<polyline points="548.1,1637.5 576.8,1640.3 641.0,1665.5 720.6,1692.1 727.8,1696.2 735.1,1700.3 742.3,1704.4 749.5,1708.5 756.8,1712.5 764.0,1716.6 771.3,1720.5 778.5,1724.4 785.7,1728.2 793.0,1732.0 800.2,1735.8 807.5,1739.5 814.7,1743.2 821.9,1746.7 829.2,1750.1 836.4,1753.4 840.0,1755.0 843.6,1756.5 847.3,1758.0 850.9,1759.5 854.5,1761.0 858.1,1762.4 861.8,1763.9 865.4,1765.3 879.7,1770.8 894.0,1776.0 908.4,1780.9 922.7,1785.6 937.0,1790.1 951.4,1794.5 965.7,1798.7 980.0,1802.9 983.9,1804.0 987.9,1805.2 991.8,1806.3 995.8,1807.4 999.7,1808.5 1003.6,1809.6 1007.6,1810.6 1011.5,1811.7 1018.6,1813.6 1025.7,1815.4 1032.8,1817.1 1039.8,1818.8 1046.9,1820.5 1054.0,1822.2 1061.1,1823.9 1068.2,1825.6 1075.6,1827.4 1083.0,1829.1 1090.4,1830.9 1097.8,1832.6 1105.2,1834.3 1112.6,1836.1 1120.0,1837.7 1127.4,1839.4 1131.0,1840.2 1134.6,1841.0 1138.2,1841.8 1141.8,1842.6 1145.5,1843.4 1149.1,1844.2 1152.7,1845.0 1156.3,1845.7 1163.5,1847.1 1170.8,1848.5 1178.0,1849.8 1185.3,1851.0 1192.5,1852.2 1199.8,1853.4 1207.0,1854.6 1214.3,1855.8 1225.3,1857.7 1236.2,1859.5 1247.2,1861.3 1258.2,1863.2 1269.1,1865.0 1280.1,1866.8 1291.0,1868.6 1302.0,1870.4" fill="none" stroke="#EBC032" stroke-width="7.8" stroke-linecap="round" stroke-linejoin="round"/>
<polyline points="548.1,1616.4 576.8,1619.7 641.0,1645.0 720.6,1669.6 727.8,1673.7 735.1,1678.0 742.3,1682.2 749.5,1686.5 756.8,1690.7 764.0,1694.7 771.3,1698.6 778.5,1702.3 785.7,1705.8 793.0,1709.0 800.2,1712.2 807.5,1715.2 814.7,1718.1 821.9,1721.0 829.2,1723.7 836.4,1726.5 840.0,1727.9 843.6,1729.2 847.3,1730.5 850.9,1731.9 854.5,1733.2 858.1,1734.5 861.8,1735.7 865.4,1737.0 879.7,1741.9 894.0,1746.5 908.4,1751.0 922.7,1755.3 937.0,1759.4 951.4,1763.5 965.7,1767.4 980.0,1771.4 991.0,1774.4 1002.0,1777.5 1013.1,1780.4 1024.1,1783.3 1035.1,1786.2 1046.2,1788.9 1057.2,1791.6 1068.2,1794.1 1079.2,1796.5 1090.2,1798.8 1101.2,1801.0 1112.2,1803.1 1123.3,1805.1 1134.3,1807.0 1145.3,1808.8 1156.3,1810.5 1163.5,1811.6 1170.8,1812.6 1178.0,1813.6 1185.3,1814.5 1192.5,1815.4 1199.8,1816.3 1207.0,1817.1 1214.3,1818.0 1224.6,1819.2 1235.0,1820.4 1245.3,1821.5 1255.7,1822.5 1266.0,1823.6 1276.3,1824.7 1286.7,1825.7 1297.0,1826.8" fill="none" stroke="#FF4F55" stroke-width="5.4" stroke-linecap="round" stroke-linejoin="round" stroke-dasharray="8.6 10.8"/>
<polyline points="548.1,1616.4 576.8,1619.7 641.0,1645.0 720.6,1669.6 727.8,1673.7 735.1,1677.9 742.3,1682.1 749.5,1686.3 756.8,1690.5 764.0,1694.5 771.3,1698.5 778.5,1702.3 785.7,1705.9 793.0,1709.4 800.2,1712.8 807.5,1716.1 814.7,1719.3 821.9,1722.5 829.2,1725.8 836.4,1729.0 840.0,1730.6 843.6,1732.3 847.3,1734.0 850.9,1735.6 854.5,1737.3 858.1,1738.9 861.8,1740.5 865.4,1742.0 879.7,1747.7 894.0,1752.7 908.4,1757.3 922.7,1761.5 937.0,1765.5 951.4,1769.5 965.7,1773.5 980.0,1777.7 991.0,1781.1 1002.0,1784.5 1013.1,1788.0 1024.1,1791.4 1035.1,1794.8 1046.2,1798.0 1057.2,1801.2 1068.2,1804.2 1079.2,1807.0 1090.2,1809.8 1101.2,1812.4 1112.2,1814.9 1123.3,1817.3 1134.3,1819.7 1145.3,1822.0 1156.3,1824.3 1163.5,1825.8 1170.8,1827.3 1178.0,1828.8 1185.3,1830.2 1192.5,1831.7 1199.8,1833.0 1207.0,1834.4 1214.3,1835.6 1224.6,1837.2 1235.0,1838.7 1245.3,1840.0 1255.7,1841.3 1266.0,1842.5 1276.3,1843.7 1286.7,1844.9 1297.0,1846.2" fill="none" stroke="#FF4F55" stroke-width="5.4" stroke-linecap="round" stroke-linejoin="round" stroke-dasharray="8.6 10.8"/>
<polyline points="548.1,1616.4 576.8,1619.7 641.0,1645.0 720.6,1669.6 727.8,1673.7 735.1,1677.9 742.3,1682.2 749.5,1686.4 756.8,1690.6 764.0,1694.6 771.3,1698.6 778.5,1702.3 785.7,1705.8 793.0,1709.2 800.2,1712.5 807.5,1715.6 814.7,1718.7 821.9,1721.7 829.2,1724.8 836.4,1727.8 840.0,1729.3 843.6,1730.9 847.3,1732.4 850.9,1733.9 854.5,1735.4 858.1,1736.9 861.8,1738.4 865.4,1739.8 879.7,1745.1 894.0,1749.9 908.4,1754.4 922.7,1758.6 937.0,1762.6 951.4,1766.7 965.7,1770.8 980.0,1775.2 983.9,1776.5 987.9,1777.8 991.8,1779.1 995.8,1780.3 999.7,1781.6 1003.6,1782.9 1007.6,1784.1 1011.5,1785.3 1018.6,1787.3 1025.7,1789.2 1032.8,1791.0 1039.8,1792.7 1046.9,1794.3 1054.0,1795.9 1061.1,1797.5 1068.2,1799.1 1075.6,1800.8 1083.0,1802.4 1090.4,1803.9 1097.8,1805.5 1105.2,1807.0 1112.6,1808.6 1120.0,1810.1 1127.4,1811.7 1131.0,1812.5 1134.6,1813.3 1138.2,1814.1 1141.8,1814.9 1145.5,1815.7 1149.1,1816.5 1152.7,1817.3 1156.3,1818.0 1163.5,1819.4 1170.8,1820.8 1178.0,1822.1 1185.3,1823.4 1192.5,1824.6 1199.8,1825.8 1207.0,1827.0 1214.3,1828.1 1225.3,1829.7 1236.2,1831.3 1247.2,1832.7 1258.2,1834.0 1269.1,1835.4 1280.1,1836.7 1291.0,1838.0 1302.0,1839.4" fill="none" stroke="#FF1A0A" stroke-width="8" stroke-linecap="round" stroke-linejoin="round"/>
<polyline points="548.1,1537.0 576.8,1537.7 642.2,1557.5 720.6,1579.6 778.5,1605.2 836.4,1623.9 865.4,1635.8 928.9,1651.4 980.0,1661.9 1011.5,1670.7 1068.2,1679.5 1127.4,1685.8 1156.3,1692.1 1214.3,1695.9 1301.2,1695.9" fill="none" stroke="#000000" stroke-width="8" stroke-linecap="round" stroke-linejoin="round"/>
<polyline points="548.1,1537.0 576.8,1538.7 642.2,1554.0 720.6,1571.1 778.5,1593.3 836.4,1605.2 865.4,1612.0 928.9,1626.5 980.0,1631.0 1011.5,1634.2 1068.2,1635.9 1127.4,1634.2 1156.3,1634.2 1214.3,1627.9 1257.0,1619.0 1301.2,1608.2" fill="none" stroke="#000000" stroke-width="5.4" stroke-linecap="round" stroke-linejoin="round" stroke-dasharray="8.6 10.8"/>
<polyline points="548.1,1537.0 576.8,1538.7 642.2,1562.6 720.6,1589.8 778.5,1618.8 836.4,1644.4 865.4,1654.6 928.9,1675.1 980.0,1691.0 1011.5,1702.2 1068.2,1714.8 1127.4,1726.1 1156.3,1734.9 1214.3,1743.7 1301.2,1753.3" fill="none" stroke="#000000" stroke-width="5.4" stroke-linecap="round" stroke-linejoin="round" stroke-dasharray="8.6 10.8"/>
<text x="99.5" y="1952.5" text-anchor="end" class="ax">0</text>
<text x="99.5" y="1860.5" text-anchor="end" class="ax">200</text>
<text x="99.5" y="1768.6" text-anchor="end" class="ax">400</text>
<text x="99.5" y="1676.7" text-anchor="end" class="ax">600</text>
<text x="99.5" y="1584.7" text-anchor="end" class="ax">800</text>
<text x="99.5" y="1492.8" text-anchor="end" class="ax">1000</text>
<text x="99.5" y="1400.8" text-anchor="end" class="ax">1200</text>
<text x="142.5" y="1992.0" text-anchor="middle" class="ax">2010</text>
<text x="287.3" y="1992.0" text-anchor="middle" class="ax">2015</text>
<text x="432.2" y="1992.0" text-anchor="middle" class="ax">2020</text>
<text x="577.0" y="1992.0" text-anchor="middle" class="ax">2025</text>
<text x="721.9" y="1992.0" text-anchor="middle" class="ax">2030</text>
<text x="866.7" y="1992.0" text-anchor="middle" class="ax">2035</text>
<text x="1011.6" y="1992.0" text-anchor="middle" class="ax">2040</text>
<text x="1156.4" y="1992.0" text-anchor="middle" class="ax">2045</text>
<text x="1301.3" y="1992.0" text-anchor="middle" class="ax">2050</text>
<text transform="translate(30.1,1718.2) rotate(-90)" text-anchor="middle" class="yt" textLength="316" lengthAdjust="spacingAndGlyphs">Tg CO<tspan font-size="22" dy="7">2</tspan><tspan dy="-7">-eq. emissions</tspan></text>
<text transform="translate(1223.6,1470) scale(0.82,1)" text-anchor="middle" class="lt">C</text>
<rect x="63.7" y="2021.2" width="36.6" height="14.6" fill="#5277C7"/>
<text x="104.8" y="2036.5" class="lg" textLength="47.4" lengthAdjust="spacingAndGlyphs">CCl4</text>
<rect x="294.7" y="2021.2" width="36.6" height="14.6" fill="#FF5050"/>
<text x="335.8" y="2036.5" class="lg" textLength="91" lengthAdjust="spacingAndGlyphs">CH3CCl3</text>
<rect x="525.7" y="2021.2" width="36.6" height="14.6" fill="#E57A39"/>
<text x="566.8" y="2036.5" class="lg" textLength="110.8" lengthAdjust="spacingAndGlyphs">CFC-113/a</text>
<rect x="756.7" y="2021.2" width="36.6" height="14.6" fill="#D9D9D9"/>
<text x="797.8" y="2036.5" class="lg" textLength="110.8" lengthAdjust="spacingAndGlyphs">CFC-114/a</text>
<rect x="987.7" y="2021.2" width="36.6" height="14.6" fill="#5BBFF0"/>
<text x="1028.8" y="2036.5" class="lg" textLength="87.4" lengthAdjust="spacingAndGlyphs">CFC-115</text>
<rect x="63.7" y="2063.4" width="36.6" height="14.6" fill="#69A2D7"/>
<text x="104.8" y="2078.7" class="lg" textLength="90.4" lengthAdjust="spacingAndGlyphs">HCFC-22</text>
<rect x="294.7" y="2063.4" width="36.6" height="14.6" fill="#000000"/>
<text x="335.8" y="2078.7" class="lg" textLength="126.9" lengthAdjust="spacingAndGlyphs">HCFC-124/a</text>
<rect x="525.7" y="2063.4" width="36.6" height="14.6" fill="#873F18"/>
<text x="566.8" y="2078.7" class="lg" textLength="118.5" lengthAdjust="spacingAndGlyphs">HCFC-141b</text>
<rect x="756.7" y="2063.4" width="36.6" height="14.6" fill="#636463"/>
<text x="797.8" y="2078.7" class="lg" textLength="118.5" lengthAdjust="spacingAndGlyphs">HCFC-142b</text>
<rect x="987.7" y="2063.4" width="36.6" height="14.6" fill="#7BB84C"/>
<text x="1028.8" y="2078.7" class="lg" textLength="123.3" lengthAdjust="spacingAndGlyphs">Halon-1301</text>
<line x1="64.0" y1="2114.4" x2="100.5" y2="2114.4" stroke="#000000" stroke-width="8.2" stroke-linecap="round"/>
<text x="106.3" y="2121.1" class="lg" textLength="43.9" lengthAdjust="spacingAndGlyphs">BAU</text>
<line x1="295.0" y1="2114.4" x2="331.5" y2="2114.4" stroke="#FF1A0A" stroke-width="8.2" stroke-linecap="round"/>
<text x="337.3" y="2121.1" class="lg" textLength="50.4" lengthAdjust="spacingAndGlyphs">LOW</text>
<line x1="526.0" y1="2114.4" x2="562.5" y2="2114.4" stroke="#EBC032" stroke-width="8.2" stroke-linecap="round"/>
<text x="568.3" y="2121.1" class="lg" textLength="56.3" lengthAdjust="spacingAndGlyphs">ZERO</text>
</svg>
</body></html>
